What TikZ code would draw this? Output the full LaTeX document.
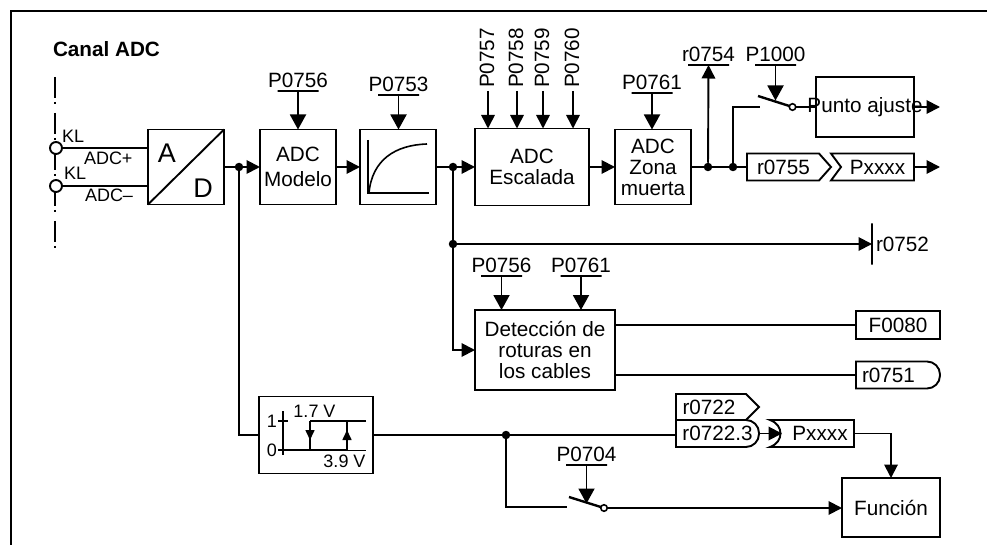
\documentclass[tikz,border=0pt]{standalone}
\usepackage{fontspec}
\usepackage{tikz}
\usetikzlibrary{positioning,calc,arrows.meta}
\setmainfont{Liberation Sans}
\definecolor{ink}{HTML}{000000}

\begin{document}
\begin{tikzpicture}[
      x=1pt,y=-1pt,
      every node/.style={outer sep=0pt,inner sep=0pt,text=ink},
      every label/.style={label distance=3.5pt},
      font=\fontsize{20.7}{21}\selectfont,
      line width=1.9pt,draw=ink,
      box/.style={draw=ink,rectangle,minimum width=76pt,minimum height=75pt,align=center},
      tag/.style={rectangle,minimum height=27pt,align=center},
      stub/.style={draw=ink,rectangle,line width=1.6pt,minimum width=41pt,minimum height=0pt},
      vstub/.style={draw=ink,rectangle,line width=1.6pt,minimum width=0pt,minimum height=41pt},
      small/.style={font=\fontsize{18}{18}\selectfont},
      arr/.style={-{Triangle[length=13.5pt,width=13.5pt]},ink},
      big/.style={-{Triangle[length=15pt,width=16pt]},ink},
      blade/.style={line width=2.4pt},
      dot/.style={circle,fill=ink,minimum size=8.5pt},
      contact/.style={circle,draw=ink,fill=white,line width=1.6pt,minimum size=6.5pt},
      term/.style={circle,draw=ink,fill=white,minimum size=12pt}]
      \useasboundingbox (0,0) rectangle (987,545);
      \draw[line width=2.2pt] (11,545) -- (11,11) -- (987,11);
      \node[anchor=base west,font=\fontsize{20.7}{21}\selectfont\bfseries] (title) at (53,57) {Canal ADC};
      % entrada
      \coordinate (axistop) at (55,77);
      \coordinate (axisend) at (55,250);
      \draw[line width=1.6pt,dash pattern=on 21pt off 4pt on 2pt off 9pt] (axistop) -- (axisend);
      \node[box] (ad) at (186,167) {};
      \node[term] (kla) at (56,148) {};
      \node[term] (klb) at (56,186) {};
      \node[small,anchor=base west] (kltxta) at (62,143) {KL};
      \node[small,anchor=base west] (kltxtb) at (64,180) {KL};
      \node[small,anchor=base west] (adcp) at (84,165) {ADC+};
      \node[small,anchor=base west] (adcn) at (85,202) {ADC–};
      \draw (kla) -- (kla -| ad.west);
      \draw (klb) -- (klb -| ad.west);
      \draw (ad.south west) -- (ad.north east);
      \node[font=\fontsize{27}{27}\selectfont] (atxt) at (167,153) {A};
      \node[font=\fontsize{27}{27}\selectfont] (dtxt) at (203,188) {D};
      % cadena superior
      \node[box,right=36pt of ad] (modelo) {ADC\\[4pt]Modelo};
      \node[box,right=24pt of modelo] (ramp) {};
      \node[box,right=39pt of ramp,minimum width=114pt,minimum height=77pt] (scale) {ADC\\Escalada};
      \node[box,right=26pt of scale] (dead) {ADC\\Zona\\muerta};
      \draw[line width=1.6pt] (368,140) -- (368,193) -- (429,193);
      \draw[line width=1.6pt] (369,193) .. controls (372,160) and (395,145) .. (427,144);
      \node[dot] (dotad) at (239,167) {};
      \node[dot] (dotramp) at (453,167) {};
      \node[dot] (dotdead) at (708,167) {};
      \node[dot] (dotsw) at (733,167) {};
      \draw[arr] (ad) -- (modelo);
      \draw[arr] (modelo) -- (ramp);
      \draw[arr] (ramp) -- (scale);
      \draw[arr] (scale) -- (dead);
      % parametros
      \node[stub,label=above:P0756] (pmodelo) at (298,91) {};
      \node[stub,label=above:P0753] (pramp) at (398.5,95) {};
      \node[stub,label=above:P0761] (pdead) at (652,93) {};
      \node[stub,label=above:r0754] (rdead) at (708.5,65) {};
      \node[stub,label=above:P1000] (pset) at (775.5,65) {};
      \draw[big] (pmodelo) -- (pmodelo |- modelo.north);
      \draw[big] (pramp) -- (pramp |- ramp.north);
      \draw[big] (pdead) -- (pdead |- dead.north);
      \node[rotate=90] (p757) at (487,58) {P0757};
      \node[rotate=90] (p758) at (516,58) {P0758};
      \node[rotate=90] (p759) at (542,58) {P0759};
      \node[rotate=90] (p760) at (572,58) {P0760};
      \coordinate (s757) at (488,91);
      \coordinate (s758) at (517,91);
      \coordinate (s759) at (543,91);
      \coordinate (s760) at (573,91);
      \draw[arr,line width=1.6pt] (s757) -- (s757 |- scale.north);
      \draw[arr,line width=1.6pt] (s758) -- (s758 |- scale.north);
      \draw[arr,line width=1.6pt] (s759) -- (s759 |- scale.north);
      \draw[arr,line width=1.6pt] (s760) -- (s760 |- scale.north);
      \draw[arr] (dotdead) -- (rdead);
      % punto de ajuste
      \node[box,minimum width=98pt,minimum height=60pt] (setpt) at (865,107) {\makebox[0pt]{Punto ajuste}};
      \coordinate (swin) at (760,107);
      \coordinate (bladea) at (758,96);
      \coordinate (bladetip) at (775.5,100.5);
      \node[contact] (swout) at (792.5,107) {};
      \draw (dotsw) |- (swin);
      \draw[blade] (bladea) -- (swout);
      \draw[big] (pset) -- (bladetip);
      \draw (swout) -- (setpt);
      \coordinate (setend) at (940,107);
      \draw[arr] (setpt) -- (setend);
      % salida
      \node[tag,minimum width=71pt] (r755) at (783.5,167) {r0755};
      \node[tag,minimum width=73pt] (pout) at (877.5,167) {Pxxxx};
      \draw (r755.north west) ++(-1,0) -- (r755.north east) -- ++(12,13.5) -- ++(-12,13.5) -- ($(r755.south west)+(-1,0)$) -- cycle;
      \draw (pout.north east) -- ++(-83,0) -- ++(10,13.5) -- ++(-10,13.5) -- (pout.south east) -- cycle;
      \draw (dead) -- ($(r755.west)+(-1,0)$);
      \coordinate (outend) at (940,167);
      \draw[arr] (pout) -- (outend);
      % r0752
      \node[dot] (dotbus) at (453,244) {};
      \node[vstub] (rbar) at (872,244) {};
      \node[anchor=west] (r752) at (876,244) {r0752};
      \draw (dotramp) -- (dotbus);
      \draw[arr] (dotbus) -- (rbar);
      % deteccion de roturas
      \node[box,minimum width=140pt,minimum height=80pt] (detect) at (545,350) {Detección de\\roturas en\\los cables};
      \node[stub,label=above:P0756] (pdeta) at (501.5,276) {};
      \node[stub,label=above:P0761] (pdetb) at (581,276) {};
      \draw[big] (pdeta) -- (pdeta |- detect.north);
      \draw[big] (pdetb) -- (pdetb |- detect.north);
      \draw[arr] (dotbus) |- (detect);
      \node[box,tag,minimum width=84pt,minimum height=28pt] (f0080) at (898,325) {F0080};
      \node[tag,minimum width=84pt] (r751) at (898,375) {\makebox[72pt][l]{r0751}};
      \draw (r751.north west) [rounded corners=13pt] -- (r751.north east) -- (r751.south east) [sharp corners] -- (r751.south west) -- cycle;
      \draw (detect.east |- f0080) -- (f0080);
      \draw (detect.east |- r751) -- (r751);
      % histeresis
      \node[box,minimum width=114pt,minimum height=77pt] (hyst) at (316,435) {};
      \draw (dotad) |- (hyst);
      \draw[line width=1.2pt] (283,411) -- (283,455);
      \draw[line width=1.2pt] (278,421) -- (288,421);
      \draw[line width=1.2pt] (278,450) -- (288,450);
      \node[small,anchor=east] (one) at (277,421) {1};
      \node[small,anchor=east] (zero) at (277,450) {0};
      \draw[line width=1.6pt] (283,450) -- (347,450);
      \draw[line width=1pt] (347,450) -- (366,450);
      \draw[line width=1.6pt] (366,421) -- (310,421);
      \draw[-{Triangle[length=10pt,width=9pt]},line width=1.6pt] (310,421) -- (310,440);
      \draw (310,438) -- (310,450);
      \draw[-{Triangle[length=10pt,width=9pt]},line width=1.6pt] (347,450) -- (347,430);
      \draw (347,432) -- (347,421);
      \node[small,anchor=base] (vhigh) at (314.5,417) {1.7 V};
      \node[small,anchor=base] (vlow) at (344.5,467) {3.9 V};
      % r0722
      \node[tag,minimum width=70pt,minimum height=26pt] (r722) at (709,407) {r0722};
      \node[tag,minimum width=83pt] (r7223) at (717.5,433.5) {r0722.3};
      \draw (r7223.north west) -- ++(0,-26) -- ++(70,0) -- ++(13,13) -- ++(-13,13) -- (r7223.north west);
      \draw (r7223.north west) [rounded corners=13pt] -- (r7223.north east) -- (r7223.south east) [sharp corners] -- (r7223.south west) -- cycle;
      \node[tag,minimum width=72pt] (pbit) at (818,433.5) {\hspace{4pt}Pxxxx};
      \draw (pbit.north east) -- ++(-84,0) .. controls +(14,5) and +(14,-5) .. +(0,27) -- (pbit.south east) -- cycle;
      \draw[arr] (r7223) -- (pbit);
      \node[dot] (dotbit) at (506,435) {};
      \draw (hyst) -- (hyst -| r7223.west);
      % funcion
      \node[box,minimum width=98pt,minimum height=59pt] (func) at (891,507.5) {Función};
      \draw[arr] (pbit) -| (func);
      \coordinate (swbin) at (567,507);
      \coordinate (bladeb) at (569,497);
      \coordinate (bladebtip) at (586.5,503.5);
      \node[contact] (swbout) at (604,508) {};
      \node[stub,label=above:P0704] (pfunc) at (586.5,465) {};
      \draw (dotbit) |- (swbin);
      \draw[blade] (bladeb) -- (swbout);
      \draw[big] (pfunc) -- (bladebtip);
      \draw[arr] (swbout) -- (func.west |- swbout);
    \end{tikzpicture}
\end{document}
